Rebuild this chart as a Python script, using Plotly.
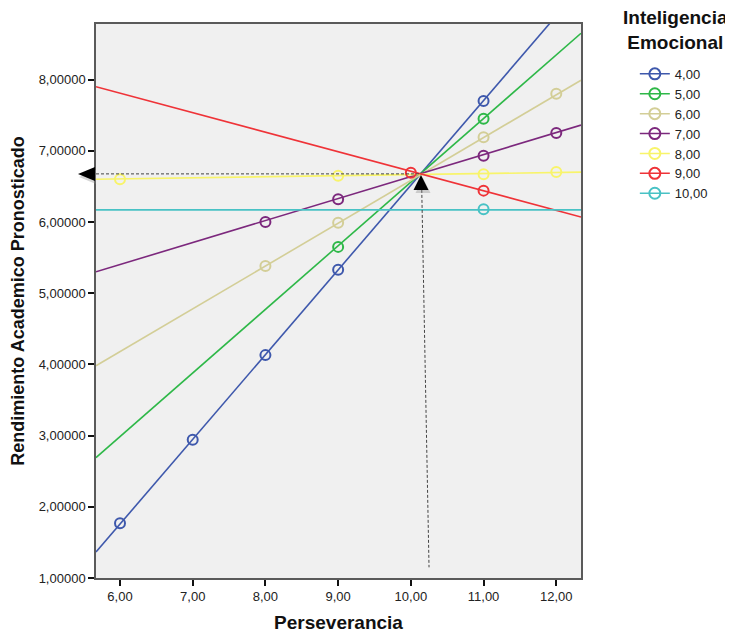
import plotly.graph_objects as go

# ---------------- data ----------------
x_range = [5.67, 12.34]
y_range = [1.0, 8.78]

groups = ["4,00", "5,00", "6,00", "7,00", "8,00", "9,00", "10,00"]
colors = ["#3E58AC", "#2EB848", "#D3CE97", "#7C287D", "#F8F46A", "#EF3338", "#48C2C5"]

# predicted points per group (Perseverancia, Rendimiento)
pts_x_4 = [6, 7, 8, 9, 11]
pts_y_4 = [1.77, 2.94, 4.13, 5.33, 7.70]
pts_x_5 = [9, 11]
pts_y_5 = [5.65, 7.45]
pts_x_6 = [8, 9, 11, 12]
pts_y_6 = [5.38, 5.99, 7.19, 7.80]
pts_x_7 = [8, 9, 11, 12]
pts_y_7 = [6.00, 6.32, 6.93, 7.25]
pts_x_8 = [6, 9, 11, 12]
pts_y_8 = [6.60, 6.65, 6.67, 6.70]
pts_x_9 = [10, 11]
pts_y_9 = [6.69, 6.44]
pts_x_10 = [11]
pts_y_10 = [6.18]

# fit line values at the left and right edges of the x axis
fit_left = [1.365, 2.69, 3.98, 5.30, 6.60, 7.90, 6.17]
fit_right = [9.30, 8.65, 7.99, 7.36, 6.70, 6.07, 6.17]

x_tickvals = [6, 7, 8, 9, 10, 11, 12]
x_ticktext = ["6,00", "7,00", "8,00", "9,00", "10,00", "11,00", "12,00"]
y_tickvals = [1, 2, 3, 4, 5, 6, 7, 8]
y_ticktext = ["1,00000", "2,00000", "3,00000", "4,00000",
              "5,00000", "6,00000", "7,00000", "8,00000"]

# reading guide (crossing point and dashed guide lines)
target_x = 10.14
target_y = 6.675
guide_top = [10.15, 6.45]
guide_bottom = [10.25, 1.15]

pts_x = [pts_x_4, pts_x_5, pts_x_6, pts_x_7, pts_x_8, pts_x_9, pts_x_10]
pts_y = [pts_y_4, pts_y_5, pts_y_6, pts_y_7, pts_y_8, pts_y_9, pts_y_10]

FONT = "Liberation Sans, Arial, sans-serif"

fig = go.Figure()

# legend entries (line + open circle symbol)
for g, c in zip(groups, colors):
    fig.add_trace(go.Scatter(
        x=[None], y=[None], mode="lines+markers", name=g,
        line=dict(color=c, width=1.5),
        marker=dict(symbol="circle-open", size=11, color=c, line=dict(width=2)),
        legendgroup=g, showlegend=True))

# fit lines
for g, c, a, b in zip(groups, colors, fit_left, fit_right):
    fig.add_trace(go.Scatter(
        x=x_range, y=[a, b], mode="lines", line=dict(color=c, width=1.6),
        legendgroup=g, showlegend=False, hoverinfo="skip"))

# points
for g, c, xs, ys in zip(groups, colors, pts_x, pts_y):
    fig.add_trace(go.Scatter(
        x=xs, y=ys, mode="markers", name=g,
        marker=dict(symbol="circle-open", size=10, color=c, line=dict(width=2)),
        legendgroup=g, showlegend=False))

shapes = []
# dashed guides
shapes.append(dict(type="line", xref="x", yref="y", x0=x_range[0], x1=target_x,
                   y0=target_y, y1=target_y, layer="above",
                   line=dict(color="#444444", width=1, dash="3px,2px")))
shapes.append(dict(type="line", xref="x", yref="y", x0=guide_top[0], x1=guide_bottom[0],
                   y0=guide_top[1], y1=guide_bottom[1], layer="above",
                   line=dict(color="#444444", width=1, dash="3px,2px")))

# up arrowhead at crossing point (pixel geometry anchored to data)
for dx, dy, col, op in [(2, -3, "#888888", 0.35), (0, 0, "#000000", 1.0)]:
    shapes.append(dict(type="path", xref="x", yref="y", xsizemode="pixel", ysizemode="pixel",
                       xanchor=target_x, yanchor=target_y,
                       path=f"M {0+dx},{-1+dy} L {-7.5+dx},{-16+dy} L {7.5+dx},{-16+dy} Z",
                       fillcolor=col, opacity=op, line=dict(width=0), layer="above"))

# left arrowhead just outside the y axis (paper x, paper y computed from data)
ty_paper = (target_y - y_range[0]) / (y_range[1] - y_range[0])
for dx, dy, col, op in [(1, -3, "#888888", 0.35), (0, 0, "#000000", 1.0)]:
    shapes.append(dict(type="path", xref="paper", yref="paper", xsizemode="pixel", ysizemode="pixel",
                       xanchor=0, yanchor=ty_paper,
                       path=f"M {-1+dx},{7+dy} L {-1+dx},{-7+dy} L {-18+dx},{0+dy} Z",
                       fillcolor=col, opacity=op, line=dict(width=0), layer="above"))

# the page adds an 8px body margin, so the figure is 8px smaller and offset accordingly
fig.update_layout(
    width=725, height=627,
    margin=dict(l=88, r=152, t=16, b=57, autoexpand=False),
    paper_bgcolor="white",
    plot_bgcolor="#F0F0F0",
    font=dict(family=FONT, size=13, color="#222222"),
    showlegend=True,
    legend=dict(x=1.111, xanchor="left", y=0.937, yanchor="top",
                font=dict(family=FONT, size=13, color="#222222"),
                bgcolor="rgba(0,0,0,0)", tracegroupgap=0),
    shapes=shapes,
    annotations=[dict(text="<b>Inteligencia</b><br><b>Emocional</b>",
                      xref="paper", yref="paper", x=1.194, y=1.034,
                      xanchor="center", yanchor="top", showarrow=False,
                      font=dict(family=FONT, size=19, color="#111111"))],
)

axis_common = dict(showgrid=False, zeroline=False, showline=True, mirror=True,
                   linecolor="#5a5a5a", linewidth=1.5, ticks="outside", ticklen=6,
                   tickwidth=1.5, tickcolor="#111111", automargin=False,
                   tickfont=dict(family=FONT, size=13, color="#222222"))

fig.update_xaxes(range=x_range, tickvals=x_tickvals, ticktext=x_ticktext,
                 title=dict(text="Perseverancia", standoff=12,
                            font=dict(family=FONT, size=19, weight="bold", color="#111111")),
                 **axis_common)
fig.update_yaxes(range=y_range, tickvals=y_tickvals, ticktext=y_ticktext,
                 title=dict(text="Rendimiento Academico Pronosticado", standoff=10,
                            font=dict(family=FONT, size=18, weight="bold", color="#111111")),
                 **axis_common)

fig.write_html("out.html")
